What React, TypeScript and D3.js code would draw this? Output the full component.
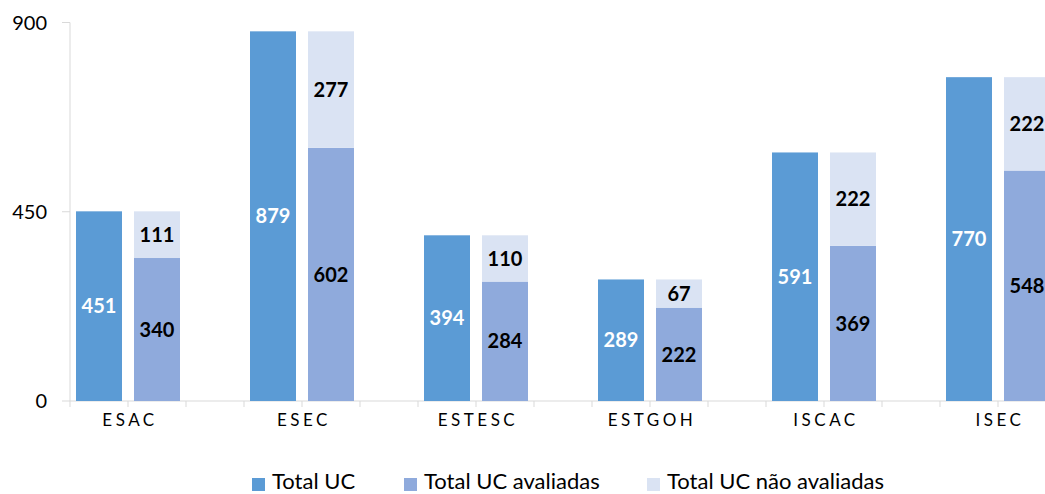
import React from "react";
import * as d3 from "d3";

const categories = ["ESAC", "ESEC", "ESTESC", "ESTGOH", "ISCAC", "ISEC"];
const totalUC = [451, 879, 394, 289, 591, 770];
const avaliadas = [340, 602, 284, 222, 369, 548];
const naoAvaliadas = [111, 277, 110, 67, 222, 222];
const yTicks = [0, 450, 900];
const seriesNames = ["Total UC", "Total UC avaliadas", "Total UC não avaliadas"];
const colors = ["#5B9BD5", "#8FAADC", "#DAE3F3"];

const W = 1045;
const H = 494;
const FONT = "Lato, 'Open Sans', sans-serif";

export default function App() {
  const x0 = d3
    .scaleBand<string>()
    .domain(categories)
    .range([70, 70 + categories.length * 174]);
  const x1 = d3
    .scaleBand<string>()
    .domain(["total", "eval", "gap"])
    .range([0, x0.bandwidth()]);
  const y = d3.scaleLinear().domain([0, 900]).range([401, 22.5]);
  const slotW = x1.bandwidth();
  const barW = slotW * (46 / 58);
  const off = (slotW - barW) / 2;

  const slotTicks = d3.range(categories.length * 3 + 1).map((i) => 70 + i * slotW);

  return (
    <svg
      width={W}
      height={H}
      style={{ position: "absolute", left: 0, top: 0, background: "#fff" }}
      fontFamily={FONT}
    >
      {/* Y axis */}
      <line x1={70} x2={70} y1={y(900)} y2={y(0)} stroke="#d9d9d9" strokeWidth={1} />
      {yTicks.map((t) => (
        <g key={t}>
          <line x1={62} x2={70} y1={y(t)} y2={y(t)} stroke="#d9d9d9" />
          <text x={47} y={y(t)} dy="0.36em" textAnchor="end" fontSize={20} fill="#000">
            {t}
          </text>
        </g>
      ))}
      {/* X axis */}
      <line x1={70} x2={slotTicks[slotTicks.length - 1]} y1={y(0)} y2={y(0)} stroke="#d9d9d9" />
      {slotTicks.map((t, i) => (
        <line key={i} x1={t} x2={t} y1={y(0)} y2={y(0) + 6} stroke="#d9d9d9" />
      ))}
      {categories.map((c) => (
        <text
          key={c}
          x={(x0(c) as number) + slotW + 2}
          y={426}
          textAnchor="middle"
          fontSize={17}
          letterSpacing={3.5}
          fill="#000"
        >
          {c}
        </text>
      ))}
      {/* Bars */}
      {categories.map((c, i) => {
        const bx = x0(c) as number;
        const tx = bx + (x1("total") as number) + off;
        const ex = bx + (x1("eval") as number) + off;
        return (
          <g key={c}>
            <rect x={tx} y={y(totalUC[i])} width={barW} height={y(0) - y(totalUC[i])} fill={colors[0]} />
            <rect x={ex} y={y(avaliadas[i])} width={barW} height={y(0) - y(avaliadas[i])} fill={colors[1]} />
            <rect
              x={ex}
              y={y(avaliadas[i] + naoAvaliadas[i])}
              width={barW}
              height={y(avaliadas[i]) - y(avaliadas[i] + naoAvaliadas[i])}
              fill={colors[2]}
            />
            <text
              x={tx + barW / 2}
              y={(y(0) + y(totalUC[i])) / 2}
              dy="0.36em"
              textAnchor="middle"
              fontSize={20}
              fontWeight="bold"
              fill="#fff"
            >
              {totalUC[i]}
            </text>
            <text
              x={ex + barW / 2}
              y={(y(0) + y(avaliadas[i])) / 2}
              dy="0.36em"
              textAnchor="middle"
              fontSize={20}
              fontWeight="bold"
              fill="#000"
            >
              {avaliadas[i]}
            </text>
            <text
              x={ex + barW / 2}
              y={(y(avaliadas[i]) + y(avaliadas[i] + naoAvaliadas[i])) / 2}
              dy="0.36em"
              textAnchor="middle"
              fontSize={20}
              fontWeight="bold"
              fill="#000"
            >
              {naoAvaliadas[i]}
            </text>
          </g>
        );
      })}
      {/* Legend */}
      {[252, 404, 647].map((lx, i) => (
        <g key={i}>
          <rect x={lx} y={478} width={13} height={13} fill={colors[i]} />
          <text x={lx + 20} y={489} fontSize={22} fill="#000">
            {seriesNames[i]}
          </text>
        </g>
      ))}
    </svg>
  );
}
